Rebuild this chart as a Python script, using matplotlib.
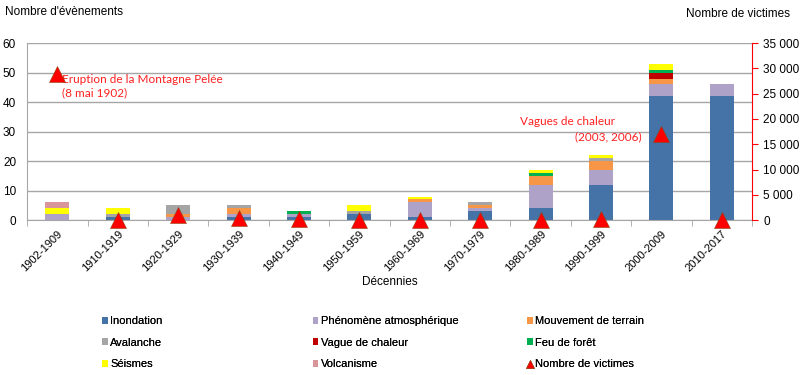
import matplotlib.pyplot as plt
import numpy as np

plt.rcParams['font.family'] = ['Liberation Sans', 'DejaVu Sans']

# =========================
# DATA
# =========================
decennies = ["1902-1909", "1910-1919", "1920-1929", "1930-1939", "1940-1949", "1950-1959",
             "1960-1969", "1970-1979", "1980-1989", "1990-1999", "2000-2009", "2010-2017"]

inondation = [0, 1, 0, 1, 1, 2, 1, 3, 4, 12, 42, 42]
phenomene = [2, 0, 1, 1, 1, 0, 5, 1, 8, 5, 4, 4]
mouvement = [0, 0, 1, 2, 0, 0, 1, 1, 3, 3, 2, 0]
avalanche = [0, 1, 3, 1, 0, 1, 0, 1, 0, 1, 0, 0]
vague_chaleur = [0, 0, 0, 0, 0, 0, 0, 0, 0, 0, 2, 0]
feu_foret = [0, 0, 0, 0, 1, 0, 0, 0, 1, 0, 1, 0]
seismes = [2, 2, 0, 0, 0, 2, 1, 0, 1, 1, 2, 0]
volcanisme = [2, 0, 0, 0, 0, 0, 0, 0, 0, 0, 0, 0]

victimes = [28800, 0, 1000, 400, 200, 100, 0, 100, 0, 150, 17100, 0]

series = [
    ("Inondation", inondation, "#4572A7"),
    ("Phénomène atmosphérique", phenomene, "#AFA2C9"),
    ("Mouvement de terrain", mouvement, "#F79646"),
    ("Avalanche", avalanche, "#A5A5A5"),
    ("Vague de chaleur", vague_chaleur, "#C00000"),
    ("Feu de forêt", feu_foret, "#00B050"),
    ("Séismes", seismes, "#FFFF00"),
    ("Volcanisme", volcanisme, "#D9969A"),
]

narrow = ['Liberation Sans Narrow', 'Liberation Sans', 'DejaVu Sans']
red_txt = '#FF2020'

# =========================
# FIGURE
# =========================
fig = plt.figure(figsize=(8, 3.75), dpi=100)
ax = fig.add_axes([0.034, 0.413, 0.906, 0.472])
x = np.arange(len(decennies))

bottom = np.zeros(len(decennies))
handles = []
for name, vals, col in series:
    b = ax.bar(x, vals, width=0.4, bottom=bottom, color=col, label=name, zorder=2)
    bottom += np.array(vals)
    handles.append(b)

ax.set_xlim(-0.5, len(decennies) - 0.5)
ax.set_ylim(0, 60)
ax.set_yticks(range(0, 61, 10))
ax.grid(axis='y', color='#A6A6A6', linewidth=1, zorder=0)
ax.tick_params(axis='y', length=0, labelsize=8.5, pad=8)
ax.set_xticks(x)
ax.set_xticklabels(decennies, rotation=45, ha='right', rotation_mode='anchor', fontsize=8)
ax.tick_params(axis='x', length=0, pad=6)
ax.set_xticks(np.arange(-0.5, len(decennies), 1), minor=True)
ax.tick_params(axis='x', which='minor', length=4, color='#A6A6A6', direction='out')
for s in ['top', 'right']:
    ax.spines[s].set_visible(False)
ax.spines['left'].set_color('#A6A6A6')
ax.spines['bottom'].set_color('#A6A6A6')
ax.set_xlabel("Décennies", fontsize=8.5, labelpad=2)

# right axis: victims
ax2 = ax.twinx()
ax2.set_ylim(0, 35000)
ax2.set_yticks(range(0, 35001, 5000))
ax2.set_yticklabels([f"{v:,}".replace(",", " ") for v in range(0, 35001, 5000)],
                    fontsize=8.5, family=narrow)
tri, = ax2.plot(x, victimes, linestyle='none', marker='^', markersize=11, color='#FF0000',
                markeredgecolor='#8B4513', markeredgewidth=0.4, label="Nombre de victimes",
                zorder=5, clip_on=False)
for s in ['top', 'left', 'bottom']:
    ax2.spines[s].set_visible(False)
ax2.spines['right'].set_color('#FF0000')
ax2.tick_params(axis='y', colors='#FF0000', labelcolor='black', length=4, pad=4)

# annotations
ax.text(0.07, 49.6, "Eruption de la Montagne Pelée\n(8 mai 1902)", color=red_txt,
        fontsize=8.5, family=['Lato', 'DejaVu Sans'], va='top', ha='left', linespacing=1.3)
ax.text(8.44, 33.3, "Vagues de chaleur", color=red_txt, fontsize=8.5,
        family=['Lato', 'DejaVu Sans'], va='center', ha='center')
ax.text(9.68, 28.2, "(2003, 2006)", color=red_txt, fontsize=8.5,
        family=['Lato', 'DejaVu Sans'], va='center', ha='right')

# axis titles
fig.text(0.006, 0.968, "Nombre d'évènements", fontsize=8.5, va='center', ha='left')
fig.text(0.988, 0.962, "Nombre de victimes", fontsize=8.5, va='center', ha='right')

# legend: three columns placed at fixed positions
leg_handles = handles + [tri]
leg_labels = [s[0] for s in series] + ["Nombre de victimes"]
columns = [[0, 3, 6], [1, 4, 7], [2, 5, 8]]
col_x = [0.128, 0.391, 0.659]
for cx, idx in zip(col_x, columns):
    lg = fig.legend([leg_handles[i] for i in idx], [leg_labels[i] for i in idx],
                    loc='upper left', bbox_to_anchor=(cx, 0.157), frameon=False,
                    fontsize=8, handlelength=0.5, handleheight=0.6, handletextpad=0.2,
                    labelspacing=1.05, markerscale=0.5, borderpad=0, borderaxespad=0,
                    prop={'family': narrow, 'size': 8})
    fig.add_artist(lg)

plt.savefig("out.png", dpi=100)
